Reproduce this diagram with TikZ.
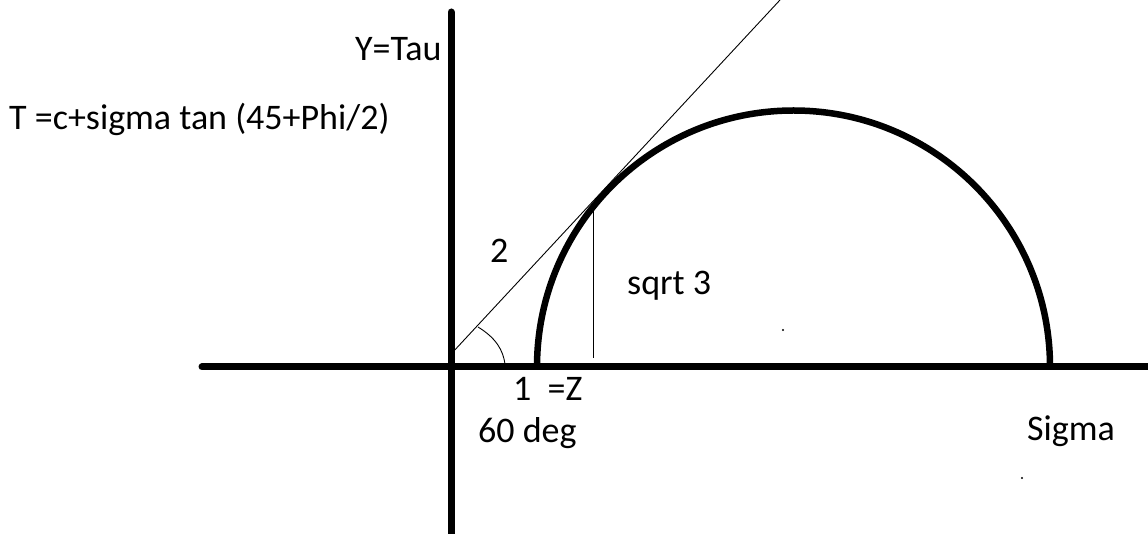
\documentclass[tikz,border=0pt]{standalone}
\usepackage{fontspec}
\setmainfont{Carlito}
\begin{document}
\begin{tikzpicture}[x=1pt,y=1pt,
  axis/.style={line width=7pt,line cap=round},
  mohr/.style={line width=6.5pt},
  thin/.style={line width=0.9pt},
  lbl/.style={inner sep=0pt,anchor=base west,font=\fontsize{36}{42}\selectfont}]
\useasboundingbox (0,0) rectangle (1148,533);
\fill[white] (0,0) rectangle (1148,533);
% coordinates
\coordinate (O) at (451,166);
\coordinate (xL) at (202,166);
\coordinate (xR) at (1152,166);
\coordinate (yT) at (451,521);
\coordinate (yB) at (451,-6);
\coordinate (L) at (537,166);
\coordinate (T0) at (452,180);
\coordinate (T1) at (780,533);
\coordinate (P) at (593,323);
\coordinate (Pf) at (593,175);
\coordinate (A0) at (478,206);
\coordinate (A1) at (505,169);
% axes
\draw[axis] (xL) -- (xR);
\draw[axis] (yT) -- (yB);
% Mohr semicircle
\draw[mohr] (L) arc[start angle=180,end angle=0,radius=256.5];
% tangent line and vertical
\draw[thin] (T0) -- (T1);
\draw[thin] (P) -- (Pf);
% angle mark
\draw[thin] (A0) .. controls (496,195) and (503,183) .. (A1);
% specks
\fill (783,203) circle[radius=1.2];
\fill (1022,55) circle[radius=1.2];
% labels
\node[lbl] (ytau) at (355,472) {Y=Tau};
\node[lbl] (eq) at (9,403) {T =c+sigma tan (45+Phi/2)};
\node[lbl] (two) at (490,270) {2};
\node[lbl] (sq) at (627,238) {sqrt 3};
\node[lbl] (one) at (513,132) {1\ \ =Z};
\node[lbl] (deg) at (478,91) {60 deg};
\node[lbl] (sig) at (1027,93) {Sigma};
\end{tikzpicture}
\end{document}
